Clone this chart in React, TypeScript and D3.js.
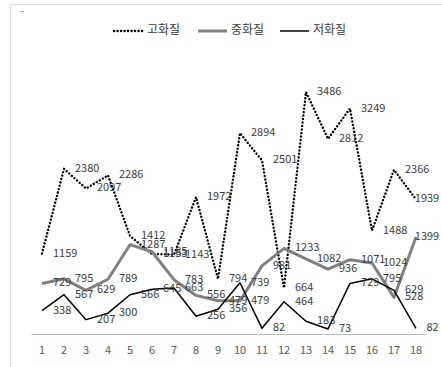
import React from "react";
import * as d3 from "d3";

// 카테고리 / 시리즈 값
const categories = ["1", "2", "3", "4", "5", "6", "7", "8", "9", "10", "11", "12", "13", "14", "15", "16", "17", "18"];
const high = [1159, 2380, 2097, 2286, 1412, 1153, 1143, 1972, 794, 2894, 2501, 664, 3486, 2812, 3249, 1488, 2366, 1939];
const mid = [729, 795, 629, 789, 1287, 1185, 783, 556, 479, 479, 981, 1233, 1082, 936, 1071, 1024, 528, 1399];
const low = [338, 567, 207, 300, 566, 645, 663, 256, 356, 739, 82, 464, 183, 73, 729, 795, 629, 82];

const seriesNames = ["고화질", "중화질", "저화질"];

const width = 442;
const height = 367;
const font = '"Noto Sans CJK KR", "Noto Sans", sans-serif';

const App = () => {
  var x = d3.scalePoint().domain(categories).range([42, 416]);
  var y = d3.scaleLinear().domain([0, 4000]).range([334, 56.4]);

  var series = [
    { name: seriesNames[0], values: high, stroke: "#000", sw: 2.4, dash: "0.1 3.4", cap: "round" },
    { name: seriesNames[1], values: mid, stroke: "#808080", sw: 3, dash: null, cap: "butt" },
    { name: seriesNames[2], values: low, stroke: "#000", sw: 1.5, dash: null, cap: "butt" },
  ];

  var line = d3
    .line<number>()
    .x((d, i) => x(categories[i]) as number)
    .y((d) => y(d));

  // legend layout
  var legendX = [114, 198, 280];

  return (
    <svg
      width={width}
      height={height}
      style={{ position: "fixed", left: 0, top: 0, background: "#fff" }}
      fontFamily={font}
    >
      <rect x={0} y={0} width={width} height={height} fill="#fff" />
      <line x1={10.5} y1={4} x2={10.5} y2={height} stroke="#d9d9d9" />
      <line x1={10} y1={4.5} x2={width} y2={4.5} stroke="#d9d9d9" />
      <line x1={20} y1={11.5} x2={24} y2={11.5} stroke="#a6a6a6" />

      {/* x axis */}
      <line x1={31} y1={334.5} x2={427} y2={334.5} stroke="#bfbfbf" />
      {categories.map((c) => (
        <text
          key={c}
          x={x(c)}
          y={351}
          textAnchor="middle"
          dominantBaseline="middle"
          fontSize={11}
          fill="#595959"
        >
          {c}
        </text>
      ))}

      {/* lines */}
      {series.map((s) => (
        <path
          key={s.name}
          d={line(s.values) || ""}
          fill="none"
          stroke={s.stroke}
          strokeWidth={s.sw}
          strokeDasharray={s.dash || undefined}
          strokeLinecap={s.cap as any}
          strokeLinejoin="round"
        />
      ))}

      {/* data labels */}
      {series.map((s) =>
        s.values.map((v, i) => {
          var label = String(v);
          var w = label.length * 5.8;
          var lx = Math.min((x(categories[i]) as number) + 11, 438 - w);
          return (
            <text
              key={s.name + i}
              x={lx}
              y={y(v)}
              dominantBaseline="middle"
              fontSize={11}
              fill="#404040"
            >
              {label}
            </text>
          );
        })
      )}

      {/* legend */}
      {series.map((s, i) => (
        <g key={"lg" + s.name} transform={`translate(${legendX[i]},31)`}>
          <line
            x1={0}
            y1={0}
            x2={29}
            y2={0}
            stroke={s.stroke}
            strokeWidth={s.sw}
            strokeDasharray={s.dash || undefined}
            strokeLinecap={s.cap as any}
          />
          <text x={33} y={0} dominantBaseline="middle" fontSize={12} fill="#404040">
            {s.name}
          </text>
        </g>
      ))}
    </svg>
  );
};

export default App;
